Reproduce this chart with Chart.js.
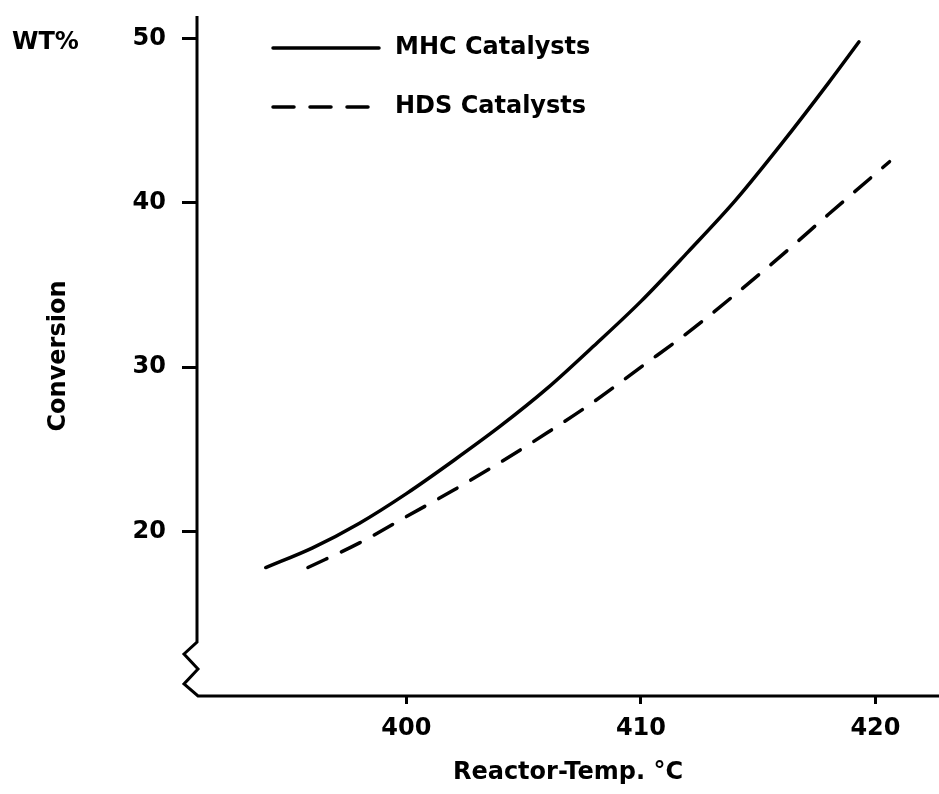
<!DOCTYPE html>
<html>
<head>
<meta charset="utf-8">
<script src="https://cdn.jsdelivr.net/npm/chart.js@4/dist/chart.umd.min.js"></script>
<style>
  html, body { margin: 0; padding: 0; background: #fff; }
  #wrap { width: 939px; height: 794px; position: relative; }
</style>
</head>
<body>
<div id="wrap"><canvas id="convChart"></canvas></div>
<script>
// Reactor temperature (°C) vs. conversion (WT%)
const mhcTemps = [394, 396, 398, 400, 402, 404, 406, 408, 410, 412, 414, 416, 418, 419.3];
const mhcConv  = [17.8, 19.0, 20.5, 22.3, 24.3, 26.4, 28.7, 31.3, 34.0, 37.0, 40.1, 43.6, 47.3, 49.8];
const hdsTemps = [395.8, 398, 400, 402, 404, 406, 408, 410, 412, 414, 416, 418, 420.6];
const hdsConv  = [17.8, 19.3, 20.9, 22.5, 24.2, 26.0, 27.9, 30.0, 32.1, 34.4, 36.8, 39.3, 42.5];

const xTicks = [400, 410, 420];
const yTicks = [20, 30, 40, 50];
const seriesNames = ['MHC Catalysts', 'HDS Catalysts'];

const FONT = { family: "'DejaVu Sans', sans-serif", size: 24, weight: 'bold' };
const INK = '#000';

const toPoints = (xs, ys) => xs.map((x, i) => ({ x: x, y: ys[i] }));

// axis lines with the broken-axis zigzag in the lower left corner
const brokenAxes = {
    id: 'brokenAxes',
    afterDatasetsDraw(chart) {
        const { ctx, chartArea: a } = chart;
        const x0 = a.left, yb = a.bottom;
        ctx.save();
        ctx.strokeStyle = INK;
        ctx.lineWidth = 3;
        ctx.lineJoin = 'miter';
        ctx.beginPath();
        ctx.moveTo(x0, a.top);
        ctx.lineTo(x0, yb - 54);
        ctx.lineTo(x0 - 13, yb - 42);
        ctx.lineTo(x0 + 1, yb - 27);
        ctx.lineTo(x0 - 13, yb - 12);
        ctx.lineTo(x0 + 1, yb);
        ctx.lineTo(a.right, yb);
        ctx.stroke();
        ctx.restore();
    }
};

// unit label and the in-plot legend
const annotations = {
    id: 'annotations',
    afterDraw(chart) {
        const { ctx, chartArea: a } = chart;
        const datasets = chart.data.datasets;
        ctx.save();
        ctx.fillStyle = INK;
        ctx.font = `${FONT.weight} ${FONT.size}px ${FONT.family}`;
        ctx.textBaseline = 'middle';
        ctx.textAlign = 'left';
        ctx.fillText('WT%', 12, 43);

        const lx = a.left + 74, rows = [48, 107];
        datasets.forEach((ds, i) => {
            const y = rows[i];
            ctx.strokeStyle = ds.borderColor;
            ctx.lineWidth = ds.borderWidth;
            ctx.lineCap = ds.borderCapStyle;
            ctx.setLineDash(ds.borderDash || []);
            ctx.beginPath();
            ctx.moveTo(lx + 2, y);
            ctx.lineTo(lx + 108, y);
            ctx.stroke();
            ctx.setLineDash([]);
            ctx.fillText(ds.label, lx + 124, y);
        });
        ctx.restore();
    }
};

const ctx = document.getElementById('convChart');
new Chart(ctx, {
    type: 'line',
    data: {
        datasets: [
            {
                label: seriesNames[0],
                data: toPoints(mhcTemps, mhcConv),
                borderColor: INK,
                borderWidth: 3.5,
                borderCapStyle: 'round',
                pointRadius: 0,
                cubicInterpolationMode: 'monotone',
                fill: false
            },
            {
                label: seriesNames[1],
                data: toPoints(hdsTemps, hdsConv),
                borderColor: INK,
                borderWidth: 3.5,
                borderDash: [21, 16],
                borderCapStyle: 'round',
                pointRadius: 0,
                cubicInterpolationMode: 'monotone',
                fill: false
            }
        ]
    },
    options: {
        responsive: true,
        maintainAspectRatio: false,
        animation: false,
        layout: { padding: { top: 16, right: 0, bottom: 0, left: 0 } },
        plugins: {
            legend: { display: false },
            tooltip: { enabled: false }
        },
        scales: {
            x: {
                type: 'linear',
                min: 391.07,
                max: 422.71,
                afterBuildTicks: s => { s.ticks = xTicks.map(v => ({ value: v })); },
                afterFit: s => { s.height = 98; s.paddingLeft = 0; s.paddingRight = 0; },
                border: { display: false },
                grid: { drawOnChartArea: false, tickLength: 8, tickWidth: 3, tickColor: INK },
                ticks: { color: INK, font: FONT, padding: 10, maxRotation: 0 },
                title: { display: true, text: 'Reactor-Temp. °C', color: INK, font: FONT, padding: { top: 0, bottom: 7 } }
            },
            y: {
                type: 'linear',
                min: 9.98,
                max: 51.37,
                afterBuildTicks: s => { s.ticks = yTicks.map(v => ({ value: v })); },
                afterFit: s => { s.width = 197; s.paddingTop = 0; s.paddingBottom = 0; },
                border: { display: false },
                grid: { drawOnChartArea: false, tickLength: 15, tickWidth: 3, tickColor: INK },
                ticks: { color: INK, font: FONT, padding: 16 },
                title: { display: true, text: 'Conversion', color: INK, font: FONT, padding: { top: 44, bottom: 0 } }
            }
        }
    },
    plugins: [brokenAxes, annotations]
});
</script>
</body>
</html>
